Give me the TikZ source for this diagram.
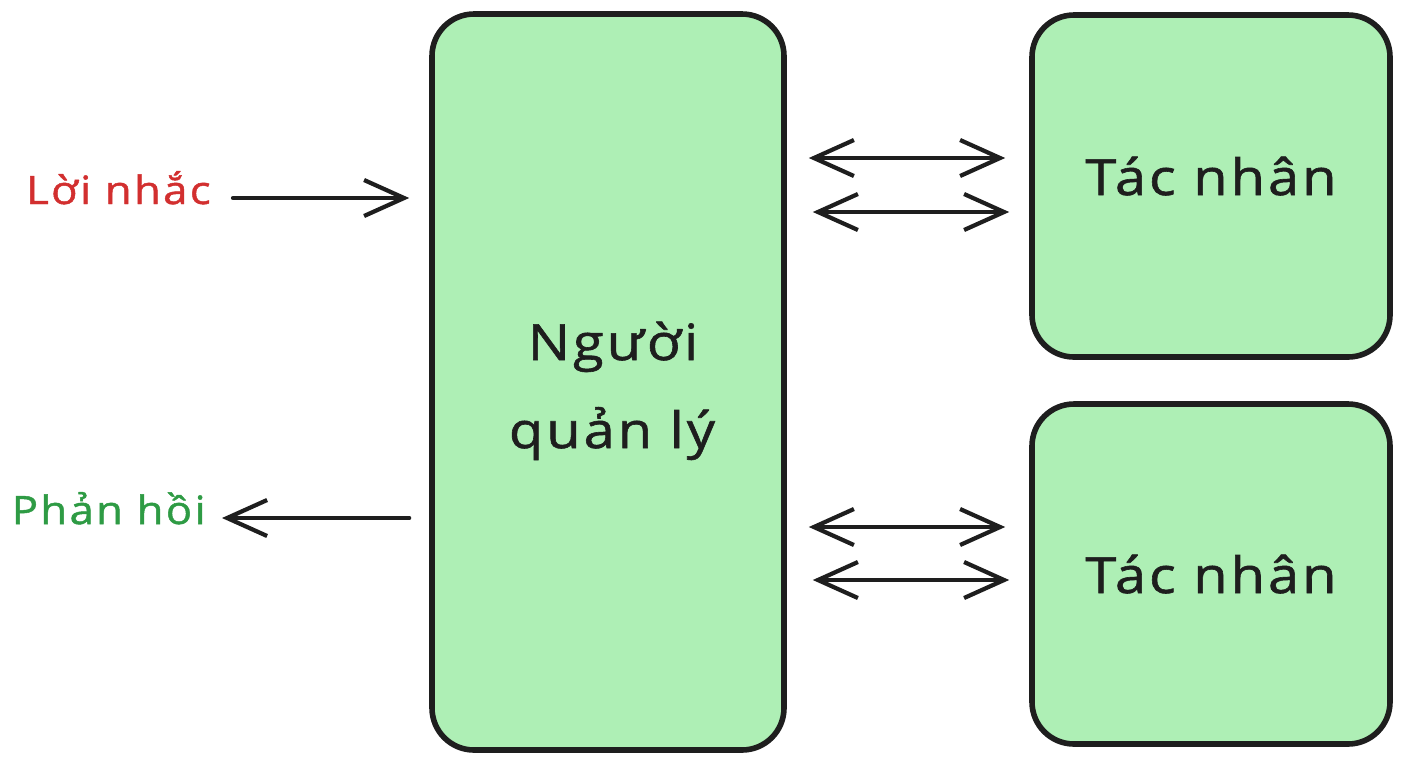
\documentclass[tikz,border=0pt]{standalone}
\usepackage{fontspec}
\setmainfont{Open Sans}
\newfontfamily\handfont[LetterSpace=6,FakeStretch=1.12,FakeBold=1.2]{Open Sans}
\usetikzlibrary{arrows.meta}
\definecolor{boxfill}{HTML}{AEEFB5}
\definecolor{ink}{HTML}{1E1E1E}
\definecolor{redtxt}{HTML}{D22F2F}
\definecolor{greentxt}{HTML}{2E9B44}
\tikzset{
  greenbox/.style={draw=ink, line width=2.8pt, fill=boxfill, rounded corners=21pt, inner sep=0pt},
  lbl/.style={font=\handfont\fontsize{25}{30}\selectfont, text=ink, inner sep=0pt, anchor=base},
  side/.style={font=\handfont\fontsize{19.5}{23}\selectfont, inner sep=0pt, anchor=base east},
  barb/.tip={Straight Barb[length=20pt,width=18pt,line width=2.1pt]},
  conn/.style={draw=ink, line width=2.1pt, line cap=round, -barb},
  dconn/.style={draw=ink, line width=2.1pt, line cap=round, barb-barb}
}
\begin{document}
\begin{tikzpicture}[x=0.5pt,y=-0.5pt]
\useasboundingbox (0,0) rectangle (1408,768);
\fill[white] (0,0) rectangle (1408,768);
\node[greenbox, minimum width=176pt, minimum height=368pt] (mgr) at (608,382) {};
\node[lbl] (mgrtxt1) at (613,360) {Người};
\node[lbl] (mgrtxt2) at (612,448) {quản lý};
\node[greenbox, minimum width=179pt, minimum height=171pt] (a1) at (1211,186) {};
\node[lbl] (a1txt) at (1211,195) {Tác nhân};
\node[greenbox, minimum width=179pt, minimum height=170pt] (a2) at (1211,574) {};
\node[lbl] (a2txt) at (1211,593) {Tác nhân};
\node[side, text=redtxt] (prompt) at (211,204) {Lời nhắc};
\node[side, text=greentxt] (resp) at (206,524) {Phản hồi};
\draw[conn, shorten <=11pt, shorten >=10pt] (prompt.east |- 0,198) -- (mgr.west |- 0,198);
\draw[conn, shorten <=10pt, shorten >=8pt] (mgr.west |- 0,518) -- (resp.east |- 0,518);
\draw[dconn, shorten <=11pt, shorten >=12pt] (mgr.east |- 0,158) -- (a1.west |- 0,158);
\draw[dconn, shorten <=13pt, shorten >=10pt] (mgr.east |- 0,212) -- (a1.west |- 0,212);
\draw[dconn, shorten <=11pt, shorten >=12pt] (mgr.east |- 0,527) -- (a2.west |- 0,527);
\draw[dconn, shorten <=13pt, shorten >=10pt] (mgr.east |- 0,580) -- (a2.west |- 0,580);
\end{tikzpicture}
\end{document}
